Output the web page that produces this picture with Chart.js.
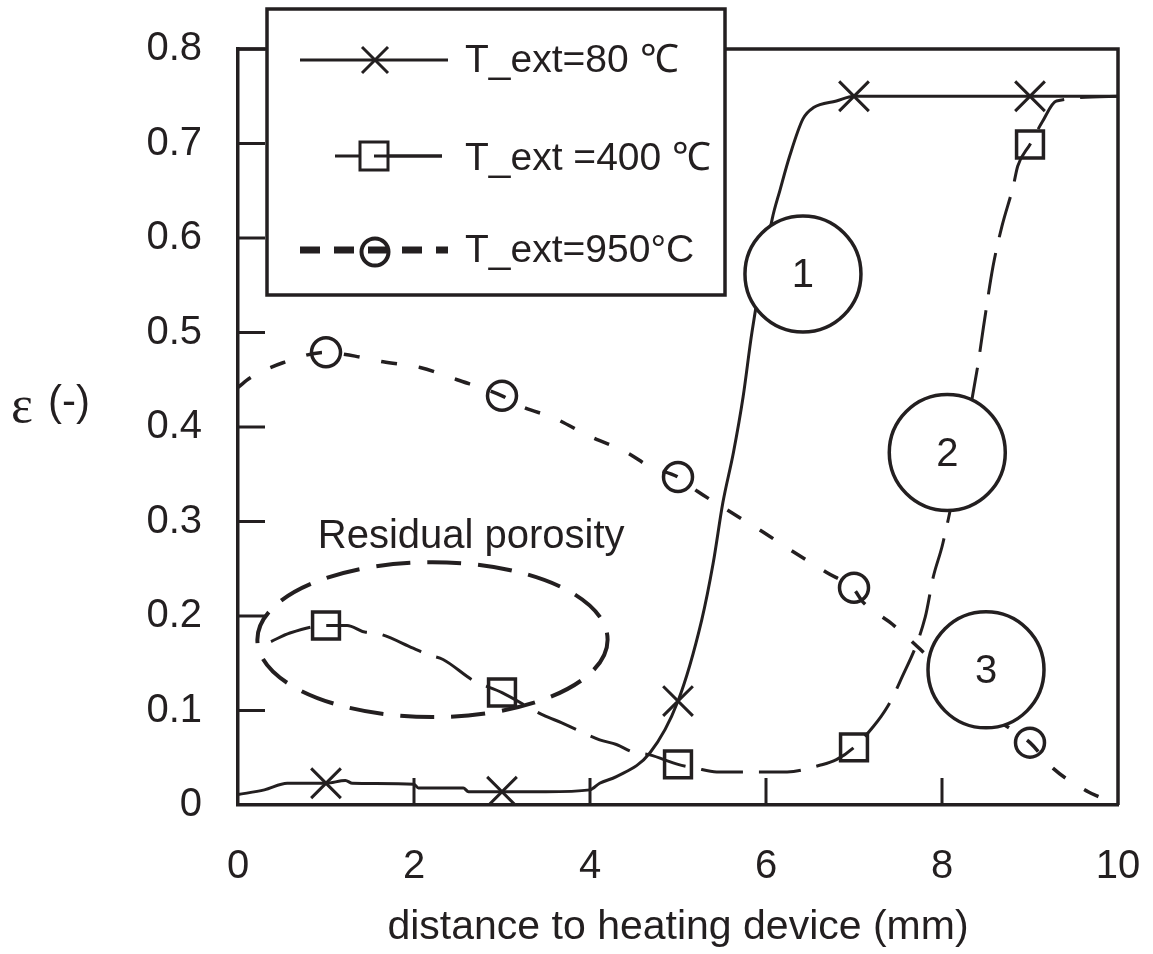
<!DOCTYPE html>
<html>
<head>
<meta charset="utf-8">
<script src="https://cdn.jsdelivr.net/npm/chart.js@4.4.1/dist/chart.umd.min.js"></script>
<style>
  html, body { margin: 0; padding: 0; background: #fff; }
  #wrap { width: 1153px; height: 954px; position: relative; }
</style>
</head>
<body>
<div id="wrap"><canvas id="porosityChart"></canvas></div>
<script>
// Curva T_ext = 80 C (linha continua)
const dist80 = [0, 0.3, 0.56, 1, 1.22, 1.3, 2, 2.05, 2.56, 2.62, 3, 3.5, 4, 4.11, 4.3, 4.68, 5, 5.27, 5.4, 5.51, 5.63, 5.74, 5.84, 6.07, 6.16, 6.27, 6.42, 6.54, 6.8, 7, 10];
const eps80 = [0.011, 0.016, 0.023, 0.023, 0.026, 0.023, 0.022, 0.018, 0.018, 0.014, 0.014, 0.014, 0.016, 0.023, 0.03, 0.055, 0.11, 0.196, 0.256, 0.32, 0.373, 0.432, 0.5, 0.62, 0.651, 0.687, 0.726, 0.738, 0.745, 0.75, 0.75];

// Curva T_ext = 400 C
const dist400 = [0.375, 0.59, 1, 1.24, 1.44, 1.56, 1.99, 2.16, 2.33, 2.67, 3, 3.47, 3.68, 4.11, 4.3, 4.49, 4.68, 5, 5.2, 5.44, 6.24, 6.61, 6.8, 7, 7.22, 7.38, 7.52, 7.81, 7.9, 8.01, 8.4, 8.47, 8.58, 8.68, 8.81, 8.86, 9, 9.14, 9.3, 10];
const eps400 = [0.173, 0.182, 0.19, 0.19, 0.183, 0.182, 0.166, 0.159, 0.154, 0.132, 0.119, 0.095, 0.087, 0.069, 0.064, 0.056, 0.053, 0.043, 0.039, 0.035, 0.035, 0.042, 0.048, 0.061, 0.083, 0.104, 0.13, 0.199, 0.241, 0.277, 0.461, 0.505, 0.57, 0.612, 0.655, 0.676, 0.699, 0.723, 0.745, 0.75];

// Curva T_ext = 950 C
const dist950 = [0, 0.14, 0.51, 1, 1.33, 1.65, 2.07, 2.49, 3, 3.24, 3.58, 4, 4.42, 4.68, 5, 5.22, 5.51, 5.93, 6.31, 6.69, 7, 7.1, 7.44, 7.75, 8.2, 8.6, 9, 9.26, 9.66, 9.8];
const eps950 = [0.442, 0.452, 0.468, 0.479, 0.475, 0.469, 0.463, 0.45, 0.433, 0.421, 0.41, 0.39, 0.373, 0.358, 0.347, 0.332, 0.315, 0.291, 0.268, 0.246, 0.228, 0.215, 0.191, 0.165, 0.125, 0.092, 0.066, 0.039, 0.014, 0.008];

// Marcadores (1, 3, 5, 7, 9 mm)
const markerDist = [1, 3, 5, 7, 9];
const marker80 = [0.023, 0.014, 0.11, 0.75, 0.75];
const marker400 = [0.19, 0.119, 0.043, 0.061, 0.699];
const marker950 = [0.479, 0.433, 0.347, 0.23, 0.066];

const seriesLabels = ['T_ext=80 ℃', 'T_ext =400 ℃', 'T_ext=950°C'];
const xTickValues = [0, 2, 4, 6, 8, 10];
const yTickValues = [0, 0.1, 0.2, 0.3, 0.4, 0.5, 0.6, 0.7, 0.8];

// Anotacoes (em unidades dos eixos)
const zoneLabels = ['1', '2', '3'];
const zoneDist = [6.42, 8.06, 8.5];
const zoneEps = [0.562, 0.373, 0.143];
const residualText = 'Residual porosity';
const residualDist = 2.21, residualEps = 0.175, residualHalfDist = 1.99, residualHalfEps = 0.082;

const ink = '#231f20';
const sans = '"Liberation Sans", Arial, Helvetica, sans-serif';

const pts = (xs, ys) => xs.map((x, i) => ({ x: x, y: ys[i] }));

function stroke(ctx, x1, y1, x2, y2) {
    ctx.beginPath();
    ctx.moveTo(x1, y1);
    ctx.lineTo(x2, y2);
    ctx.stroke();
}

// Moldura, ticks internos, circulos, elipse e legenda
const extrasPlugin = {
    id: 'extras',
    afterDatasetsDraw(chart) {
        const { ctx, chartArea: a, scales: { x, y } } = chart;
        ctx.save();
        ctx.strokeStyle = ink;
        ctx.fillStyle = ink;
        ctx.lineCap = 'butt';

        // lados de cima e da direita
        ctx.lineWidth = 3.5;
        ctx.beginPath();
        ctx.moveTo(a.left, a.top);
        ctx.lineTo(a.right, a.top);
        ctx.lineTo(a.right, a.bottom);
        ctx.stroke();

        // ticks para dentro
        ctx.lineWidth = 3;
        x.ticks.forEach(t => {
            if (t.value <= x.min || t.value >= x.max) return;
            const px = x.getPixelForValue(t.value);
            stroke(ctx, px, a.bottom, px, a.bottom - 27);
        });
        y.ticks.forEach(t => {
            if (t.value <= y.min) return;
            const py = y.getPixelForValue(t.value);
            stroke(ctx, a.left, py, a.left + 27, py);
        });

        // elipse tracejada
        const ex = x.getPixelForValue(residualDist);
        const ey = y.getPixelForValue(residualEps);
        const erx = x.getPixelForValue(residualDist + residualHalfDist) - ex;
        const ery = ey - y.getPixelForValue(residualEps + residualHalfEps);
        ctx.lineWidth = 4;
        ctx.setLineDash([34, 17]);
        ctx.beginPath();
        ctx.ellipse(ex, ey, erx, ery, 0, 0, Math.PI * 2);
        ctx.stroke();
        ctx.setLineDash([]);

        ctx.font = '40px ' + sans;
        ctx.textAlign = 'center';
        ctx.textBaseline = 'alphabetic';
        ctx.fillText(residualText, x.getPixelForValue(2.65), y.getPixelForValue(0.272));

        // circulos numerados
        ctx.lineWidth = 3.5;
        ctx.textBaseline = 'middle';
        zoneLabels.forEach((lbl, i) => {
            const cx = x.getPixelForValue(zoneDist[i]);
            const cy = y.getPixelForValue(zoneEps[i]);
            ctx.beginPath();
            ctx.arc(cx, cy, 58, 0, Math.PI * 2);
            ctx.fillStyle = '#fff';
            ctx.fill();
            ctx.stroke();
            ctx.fillStyle = ink;
            ctx.fillText(lbl, cx, cy + 2);
        });

        // titulo do eixo y
        ctx.textAlign = 'left';
        ctx.font = '52px "Liberation Serif", "DejaVu Serif", serif';
        ctx.fillText('ε', 11, 408);
        ctx.font = '42px ' + sans;
        ctx.fillText('(-)', 48, 403);

        // legenda
        const lx = 267, ly = 9, lw = 458, lh = 286;
        ctx.fillStyle = '#fff';
        ctx.fillRect(lx, ly, lw, lh);
        ctx.lineWidth = 3.5;
        ctx.strokeRect(lx, ly, lw, lh);
        ctx.fillStyle = ink;

        ctx.lineWidth = 3;
        stroke(ctx, 300, 60, 448, 60);
        stroke(ctx, 362, 47, 388, 73);
        stroke(ctx, 362, 73, 388, 47);

        stroke(ctx, 335, 156, 442, 156);
        ctx.fillStyle = '#fff';
        ctx.fillRect(360, 142, 28, 28);
        ctx.fillStyle = ink;
        ctx.strokeRect(360, 142, 28, 28);
        stroke(ctx, 374, 156, 442, 156);

        ctx.lineWidth = 7;
        ctx.setLineDash([20, 14]);
        stroke(ctx, 300, 250, 448, 250);
        ctx.setLineDash([]);
        ctx.lineWidth = 4;
        ctx.beginPath();
        ctx.arc(375, 252, 13.5, 0, Math.PI * 2);
        ctx.stroke();

        ctx.font = '39px ' + sans;
        ctx.textBaseline = 'alphabetic';
        ctx.fillText(seriesLabels[0], 465, 72);
        ctx.fillText(seriesLabels[1], 465, 170);
        ctx.fillText(seriesLabels[2], 465, 262);

        ctx.restore();
    }
};

Chart.defaults.font.family = sans;
Chart.defaults.font.size = 40;
Chart.defaults.color = ink;

const ctx = document.getElementById('porosityChart').getContext('2d');
const porosityChart = new Chart(ctx, {
    type: 'line',
    data: {
        datasets: [{
            label: seriesLabels[0],
            data: pts(dist80, eps80),
            borderColor: ink,
            borderWidth: 3,
            pointRadius: 0,
            cubicInterpolationMode: 'monotone'
        }, {
            label: seriesLabels[0] + ' markers',
            data: pts(markerDist, marker80),
            showLine: false,
            pointStyle: 'crossRot',
            pointRadius: 21,
            pointBorderWidth: 3,
            pointBorderColor: ink,
            pointBackgroundColor: 'rgba(0,0,0,0)'
        }, {
            label: seriesLabels[1],
            data: pts(dist400, eps400),
            borderColor: ink,
            borderWidth: 3,
            borderDash: [42, 16],
            pointRadius: 0,
            cubicInterpolationMode: 'monotone'
        }, {
            label: seriesLabels[1] + ' markers',
            data: pts(markerDist, marker400),
            showLine: false,
            pointStyle: 'rect',
            pointRadius: 19,
            pointBorderWidth: 3.5,
            pointBorderColor: ink,
            pointBackgroundColor: 'rgba(0,0,0,0)'
        }, {
            label: seriesLabels[2],
            data: pts(dist950, eps950),
            borderColor: ink,
            borderWidth: 3.5,
            borderDash: [16, 22],
            pointRadius: 0,
            cubicInterpolationMode: 'monotone'
        }, {
            label: seriesLabels[2] + ' markers',
            data: pts(markerDist, marker950),
            showLine: false,
            pointStyle: 'circle',
            pointRadius: 14.5,
            pointBorderWidth: 3.5,
            pointBorderColor: ink,
            pointBackgroundColor: 'rgba(0,0,0,0)'
        }]
    },
    options: {
        responsive: true,
        maintainAspectRatio: false,
        animation: false,
        layout: { padding: { top: 49, right: 35, left: 0, bottom: 0 } },
        plugins: {
            legend: { display: false },
            tooltip: { enabled: false }
        },
        scales: {
            x: {
                type: 'linear',
                min: 0,
                max: 10,
                afterBuildTicks: s => { s.ticks = xTickValues.map(v => ({ value: v })); },
                afterFit: s => { s.height = 149; s.paddingLeft = 0; s.paddingRight = 0; },
                grid: { display: false, drawTicks: false },
                border: { display: true, color: ink, width: 3.5 },
                ticks: { padding: 38, color: ink, font: { size: 40 } },
                title: {
                    display: true,
                    text: 'distance to heating device (mm)',
                    color: ink,
                    font: { size: 41 },
                    padding: { top: 0, bottom: 2 }
                }
            },
            y: {
                min: 0,
                max: 0.8,
                afterBuildTicks: s => { s.ticks = yTickValues.map(v => ({ value: v })); },
                afterFit: s => { s.width = 238; s.paddingTop = 0; s.paddingBottom = 0; },
                grid: { display: false, drawTicks: false },
                border: { display: true, color: ink, width: 3.5 },
                ticks: {
                    padding: 36,
                    color: ink,
                    font: { size: 40 },
                    callback: v => v === 0 ? '0' : v.toFixed(1)
                }
            }
        }
    },
    plugins: [extrasPlugin]
});
</script>
</body>
</html>
